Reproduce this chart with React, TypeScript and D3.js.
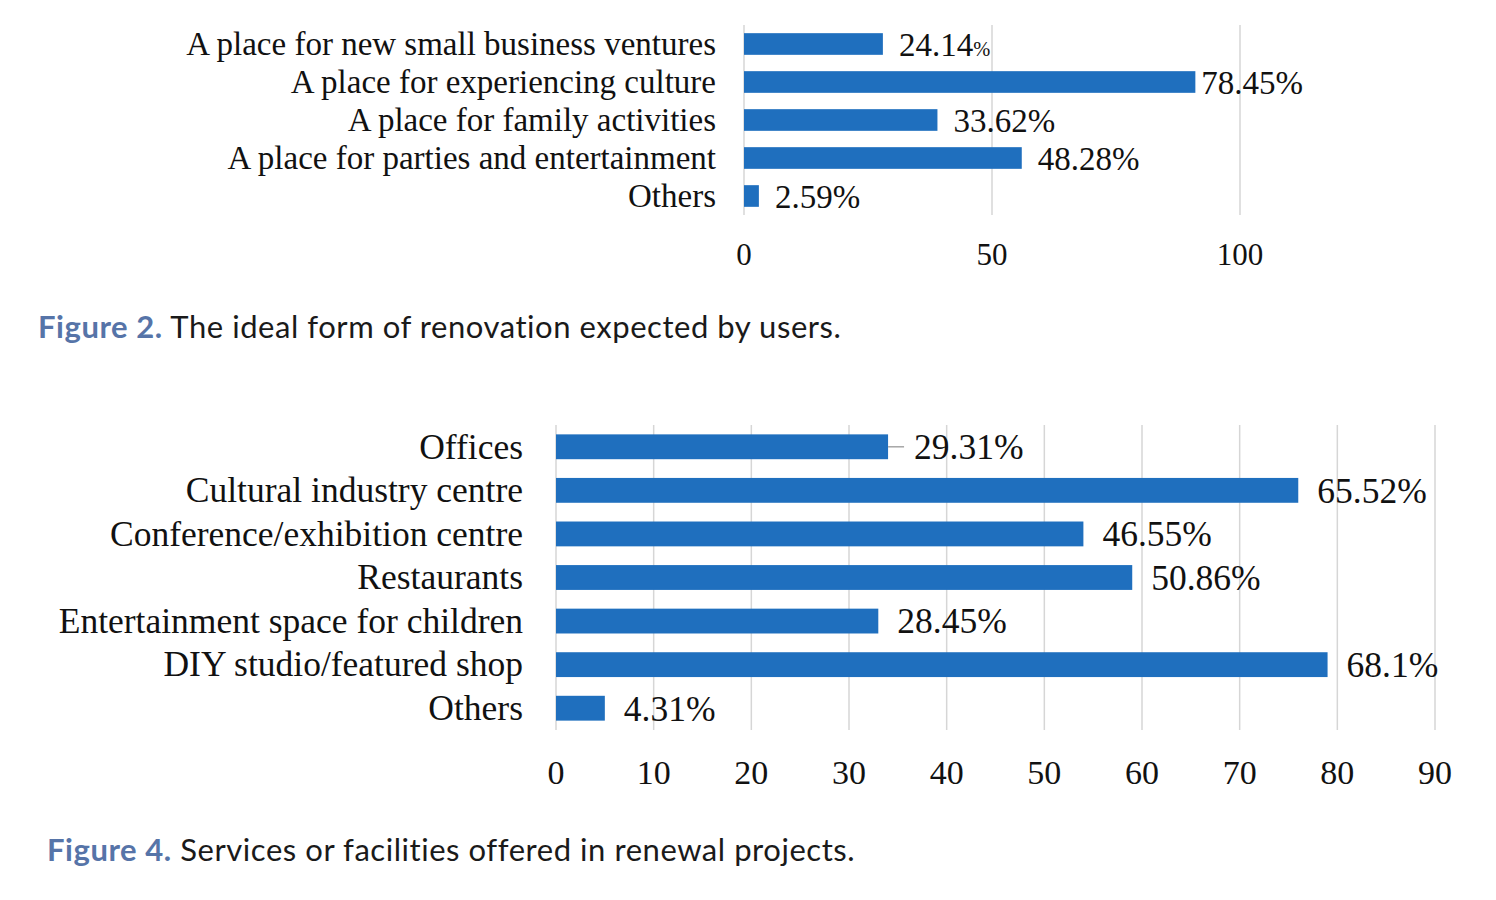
import React from "react";
import * as d3 from "d3";

// Figure 2 – ideal form of renovation (counts, n = 116)
const renovationCategories = [
  "A place for new small business ventures",
  "A place for experiencing culture",
  "A place for family activities",
  "A place for parties and entertainment",
  "Others",
];
const renovationCounts = [28, 91, 39, 56, 3];
const renovationLabels = ["24.14", "78.45%", "33.62%", "48.28%", "2.59%"];
const renovationTicks = [0, 50, 100];

// Figure 4 – services or facilities offered
const serviceCategories = [
  "Offices",
  "Cultural industry centre",
  "Conference/exhibition centre",
  "Restaurants",
  "Entertainment space for children",
  "DIY studio/featured shop",
  "Others",
];
const serviceCounts = [34, 76, 54, 59, 33, 79, 5];
const serviceLabels = ["29.31%", "65.52%", "46.55%", "50.86%", "28.45%", "68.1%", "4.31%"];
const serviceTicks = [0, 10, 20, 30, 40, 50, 60, 70, 80, 90];

const BAR = "#1f6fbe";
const GRID = "#d6d6d6";
const SERIF = "'Liberation Serif', 'Times New Roman', serif";
const SANS = "Lato, 'Open Sans', sans-serif";

interface PanelProps {
  categories: string[];
  counts: number[];
  labels: string[];
  ticks: number[];
  x0: number;
  x1: number;
  y0: number;
  y1: number;
  fontSize: number;
  tickSize: number;
  tickY: number;
  catGap: number;
  labelDx: (i: number) => number;
  leader?: number; // index of the label with a leader line
  smallPercent?: number; // index of the label with the small % sign
}

const BarPanel: React.FC<PanelProps> = ({
  categories,
  counts,
  labels,
  ticks,
  x0,
  x1,
  y0,
  y1,
  fontSize,
  tickSize,
  tickY,
  catGap,
  labelDx,
  leader,
  smallPercent,
}) => {
  const xScale = d3
    .scaleLinear()
    .domain([0, ticks[ticks.length - 1]])
    .range([x0, x1]);
  const yScale = d3
    .scaleBand<string>()
    .domain(categories)
    .range([y0, y1])
    .paddingInner(0.43)
    .paddingOuter(0.215);

  return (
    <g>
      {/* gridlines */}
      {ticks.map((t) => (
        <line
          key={`g-${t}`}
          x1={xScale(t)}
          x2={xScale(t)}
          y1={y0}
          y2={y1}
          stroke={GRID}
          strokeWidth={1.5}
        />
      ))}

      {/* bars */}
      {categories.map((c, i) => (
        <rect
          key={`b-${c}`}
          x={xScale(0)}
          y={yScale(c)}
          width={xScale(counts[i]) - xScale(0)}
          height={yScale.bandwidth()}
          fill={BAR}
        />
      ))}

      {/* category labels */}
      {categories.map((c) => (
        <text
          key={`c-${c}`}
          x={x0 - catGap}
          y={(yScale(c) ?? 0) + yScale.bandwidth() / 2}
          dy="0.33em"
          textAnchor="end"
          fontFamily={SERIF}
          fontSize={fontSize}
          fill="#111"
        >
          {c}
        </text>
      ))}

      {/* value labels */}
      {categories.map((c, i) => {
        const cy = (yScale(c) ?? 0) + yScale.bandwidth() / 2;
        const xe = xScale(counts[i]);
        return (
          <g key={`v-${c}`}>
            {leader === i && (
              <line x1={xe} x2={xe + 16} y1={cy} y2={cy} stroke="#a6a6a6" strokeWidth={1.5} />
            )}
            <text
              x={xe + labelDx(i)}
              y={cy}
              dy="0.35em"
              fontFamily={SERIF}
              fontSize={fontSize}
              fill="#111"
            >
              {labels[i]}
              {smallPercent === i && <tspan fontSize={fontSize * 0.62}>%</tspan>}
            </text>
          </g>
        );
      })}

      {/* tick labels */}
      {ticks.map((t) => (
        <text
          key={`t-${t}`}
          x={xScale(t)}
          y={tickY}
          dy="0.35em"
          textAnchor="middle"
          fontFamily={SERIF}
          fontSize={tickSize}
          fill="#111"
        >
          {t}
        </text>
      ))}
    </g>
  );
};

const Caption: React.FC<{ x: number; y: number; fig: string; text: string }> = ({ x, y, fig, text }) => (
  <text x={x} y={y} fontFamily={SANS} fontSize={31} letterSpacing={0.55} fill="#1a1a1a">
    <tspan fill="#5674a8" fontWeight={700}>{fig}</tspan>
    <tspan> {text}</tspan>
  </text>
);

export default function App() {
  const width = 1496;
  const height = 900;
  return (
    <svg
      width={width}
      height={height}
      style={{ position: "absolute", left: 0, top: 0, background: "#fff" }}
    >
      <rect width={width} height={height} fill="#fff" />
      <BarPanel
        categories={renovationCategories}
        counts={renovationCounts}
        labels={renovationLabels}
        ticks={renovationTicks}
        x0={744}
        x1={1240}
        y0={25}
        y1={215}
        fontSize={33}
        tickSize={31}
        tickY={254}
        catGap={28}
        labelDx={(i) => (i === 1 ? 6 : 16)}
        smallPercent={0}
      />
      <Caption x={38} y={338} fig="Figure 2." text="The ideal form of renovation expected by users." />

      <BarPanel
        categories={serviceCategories}
        counts={serviceCounts}
        labels={serviceLabels}
        ticks={serviceTicks}
        x0={556}
        x1={1435}
        y0={425}
        y1={730}
        fontSize={35.5}
        tickSize={34}
        tickY={772}
        catGap={33}
        labelDx={(i) => (i === 0 ? 26 : 19)}
        leader={0}
      />
      <Caption x={47} y={861} fig="Figure 4." text="Services or facilities offered in renewal projects." />
    </svg>
  );
}
